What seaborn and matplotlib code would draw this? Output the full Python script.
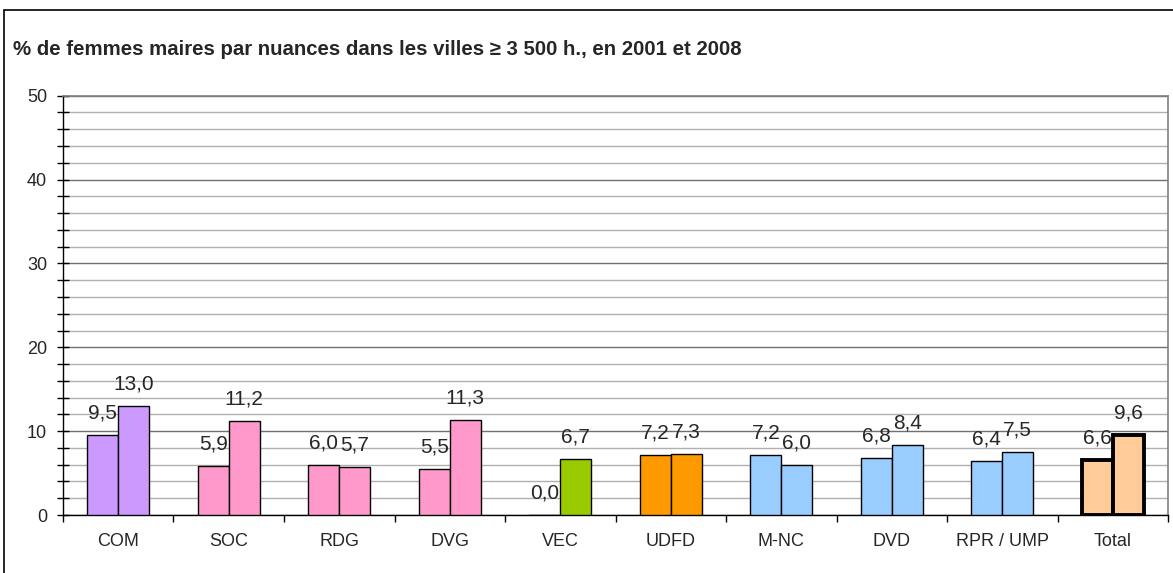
import pandas as pd
import matplotlib.pyplot as plt
import seaborn as sns
from matplotlib.patches import Rectangle
from matplotlib.ticker import MultipleLocator

nuances = ['COM', 'SOC', 'RDG', 'DVG', 'VEC', 'UDFD', 'M-NC', 'DVD', 'RPR / UMP', 'Total']
pct_2001 = [9.5, 5.9, 6.0, 5.5, 0.0, 7.2, 7.2, 6.8, 6.4, 6.6]
pct_2008 = [13.0, 11.2, 5.7, 11.3, 6.7, 7.3, 6.0, 8.4, 7.5, 9.6]
couleurs = ['#CC99FF', '#FF99CC', '#FF99CC', '#FF99CC', '#99CC00',
            '#FF9900', '#99CCFF', '#99CCFF', '#99CCFF', '#FFCC99']

df = pd.DataFrame({
    'nuance': nuances * 2,
    'annee': ['2001'] * len(nuances) + ['2008'] * len(nuances),
    'pct': pct_2001 + pct_2008,
})

sns.set_style('ticks')
plt.rcParams['font.family'] = ['Liberation Sans', 'DejaVu Sans']

fig = plt.figure(figsize=(11.73, 5.73), dpi=100)
ax = fig.add_axes([0.0537, 0.1012, 0.9421, 0.7318])

sns.barplot(data=df, x='nuance', y='pct', hue='annee', hue_order=['2001', '2008'],
            order=nuances, width=0.56, gap=0, dodge=True, edgecolor='black',
            linewidth=1, legend=False, ax=ax, zorder=3)

# couleurs par nuance, bordure épaisse pour le total
for cont in ax.containers:
    for i, bar in enumerate(cont):
        bar.set_facecolor(couleurs[i])
        bar.set_edgecolor('black')
        if nuances[i] == 'Total':
            bar.set_linewidth(2.8)
        else:
            bar.set_linewidth(1)

for cont, vals in zip(ax.containers, [pct_2001, pct_2008]):
    ax.bar_label(cont, labels=[f'{v:.1f}'.replace('.', ',') for v in vals],
                 padding=9, fontsize=15)

ax.set_ylim(0, 50)
ax.set_xlim(-0.5, len(nuances) - 0.5)
ax.yaxis.set_major_locator(MultipleLocator(10))
ax.yaxis.set_minor_locator(MultipleLocator(2))
ax.grid(axis='y', which='major', color='#707070', linewidth=1, zorder=0)
ax.grid(axis='y', which='minor', color='#B0B0B0', linewidth=1, zorder=0)
ax.set_axisbelow(True)

ax.set_xticks(range(len(nuances)))
ax.set_xticklabels(nuances)
ax.set_xticks([i - 0.5 for i in range(len(nuances) + 1)], minor=True)
ax.tick_params(axis='x', which='major', length=0, pad=13, labelsize=13)
ax.tick_params(axis='x', which='minor', length=5, width=1, direction='out', color='black')
ax.tick_params(axis='y', which='both', length=9, width=1, direction='inout', color='black')
ax.tick_params(axis='y', which='major', labelsize=13, pad=7)

ax.set_xlabel('')
ax.set_ylabel('')
for s in ['left', 'bottom']:
    ax.spines[s].set_color('black')
    ax.spines[s].set_linewidth(1)
for s in ['top', 'right']:
    ax.spines[s].set_visible(True)
    ax.spines[s].set_color('#808080')
    ax.spines[s].set_linewidth(1.2)

fig.text(13 / 1173, 1 - 55 / 573,
         '% de femmes maires par nuances dans les villes ≥ 3 500 h., en 2001 et 2008',
         fontsize=14.7, fontweight='bold', va='baseline', ha='left')

fig.patches.append(Rectangle((4 / 1173, -0.1), 1.2, 1.1 - 11 / 573 + 0.001,
                             transform=fig.transFigure, fill=False,
                             edgecolor='black', linewidth=1.2))

fig.savefig('out.png', dpi=100)
